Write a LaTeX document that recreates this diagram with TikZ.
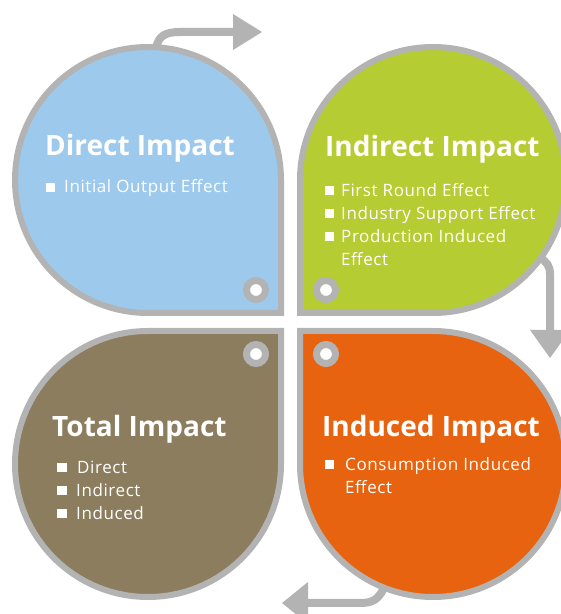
\documentclass[tikz,border=0pt]{standalone}
\usepackage{fontspec}
\setmainfont{Open Sans}
\newfontfamily\itemfont[LetterSpace=3.5]{Open Sans}
\definecolor{cblue}{HTML}{9DCAEC}
\definecolor{cgreen}{HTML}{B5CD32}
\definecolor{cbrown}{HTML}{8C7D5F}
\definecolor{corange}{HTML}{E8630F}
\definecolor{cgray}{HTML}{B3B3B3}
\tikzset{
  petal/.style={draw=cgray, line width=6pt},
  ring/.style={draw=cgray, fill=white, line width=7pt},
  flow/.style={draw=cgray, line width=8pt},
  head/.style={fill=cgray, draw=none},
  title/.style={anchor=base west, inner sep=0pt, text=white, font=\fontsize{28}{30}\selectfont\bfseries},
  item/.style={anchor=base west, inner sep=0pt, text=white, font=\itemfont\fontsize{17}{20}\selectfont},
  sq/.style={fill=white, draw=none}
}
\begin{document}
\begin{tikzpicture}[x=1pt,y=1pt]
\useasboundingbox (0,0) rectangle (561,614);
\begin{scope}
\clip (0,0) rectangle (561,614);
% petals
\path[petal, fill=cblue] (281,433) -- (281,301) -- (148,301) arc[start angle=-90,end angle=-360,radius=133] -- cycle;
\path[petal, fill=cgreen] (300,433) -- (300,301) -- (433,301) arc[start angle=-90,end angle=180,radius=133] -- cycle;
\path[petal, fill=cbrown] (281,150) -- (281,283) -- (148,283) arc[start angle=90,end angle=360,radius=133] -- cycle;
\path[petal, fill=corange] (300,150) -- (300,283) -- (433,283) arc[start angle=90,end angle=-180,radius=133] -- cycle;
% rings
\path[ring] (256,324) circle[radius=9.5];
\path[ring] (326,324) circle[radius=9.5];
\path[ring] (256,260) circle[radius=9.5];
\path[ring] (326,260) circle[radius=9.5];
% arrows
\coordinate (a1s) at (156,565);
\coordinate (a1e) at (236,582);
\path[flow] (a1s) .. controls (158,578) and (165,582) .. (180,582) -- (a1e);
\path[head] (233,600) -- (262,582) -- (233,564) -- cycle;
\coordinate (a2s) at (539,357);
\coordinate (a2e) at (550,284);
\path[flow] (a2s) .. controls (547,352) and (550,348) .. (550,340) -- (a2e);
\path[head] (530,284) -- (570,284) -- (550,256) -- cycle;
\coordinate (a3s) at (384,26);
\coordinate (a3e) at (306,11);
\path[flow] (a3s) .. controls (378,14) and (372,11) .. (360,11) -- (a3e);
\path[head] (308,32) -- (308,-10) -- (282,11) -- cycle;
\end{scope}
% texts
\node[title] (t1) at (45,458) {Direct Impact};
\path[sq] (46,422) rectangle (55,431);
\node[item] (b1) at (64,421) {Initial Output Effect};

\node[title] (t2) at (325,457) {Indirect Impact};
\path[sq] (325,418.5) rectangle (334,427.5);
\node[item] (g1) at (341,417) {First Round Effect};
\path[sq] (325,395.5) rectangle (334,404.5);
\node[item] (g2) at (341,394) {Industry Support Effect};
\path[sq] (325,372.5) rectangle (334,381.5);
\node[item] (g3) at (341,371) {Production Induced};
\node[item] (g4) at (341,348) {Effect};

\node[title] (t3) at (52,177) {Total Impact};
\path[sq] (57,141.5) rectangle (66.5,151);
\node[item] (r1) at (77,140) {Direct};
\path[sq] (57,118.5) rectangle (66.5,128);
\node[item] (r2) at (76,117) {Indirect};
\path[sq] (57,95.5) rectangle (66.5,105);
\node[item] (r3) at (76,94) {Induced};

\node[title] (t4) at (322,177) {Induced Impact};
\path[sq] (325,144.5) rectangle (334,153.5);
\node[item] (o1) at (345,143) {Consumption Induced};
\node[item] (o2) at (345,120) {Effect};
\end{tikzpicture}
\end{document}
